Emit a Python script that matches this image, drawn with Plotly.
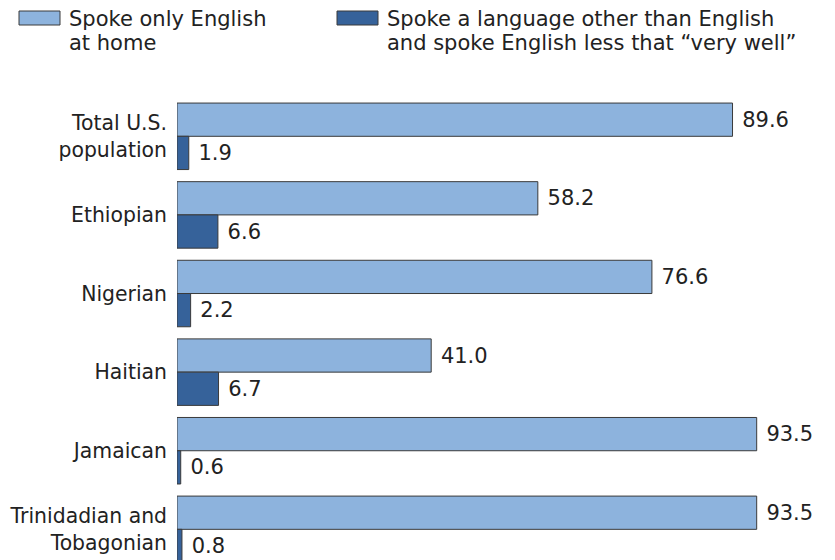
import plotly.graph_objects as go

categories = ["Total U.S.<br>population", "Ethiopian", "Nigerian", "Haitian", "Jamaican",
              "Trinidadian and<br>Tobagonian"]
english_only = [89.6, 58.2, 76.6, 41.0, 93.5, 93.5]
less_very_well = [1.9, 6.6, 2.2, 6.7, 0.6, 0.8]
series_lines = [["Spoke only English", "at home"],
                ["Spoke a language other than English",
                 "and spoke English less that \u201cvery well\u201d"]]
series_colors = ["#8DB3DD", "#36629A"]

FONT = "DejaVu Sans"
FS = 21
OFF = 8  # page body margin offset

fig = go.Figure()
for lines, vals, col in zip(series_lines, [english_only, less_very_well], series_colors):
    fig.add_trace(go.Bar(
        y=categories, x=vals, orientation="h", name=" ".join(lines),
        marker=dict(color=col, line=dict(color="#3a3a3a", width=1)),
        text=[f"{v:.1f}" for v in vals], texttemplate=" %{text}",
        textposition="outside", cliponaxis=False,
        textfont=dict(family=FONT, size=FS, color="#222222"),
        showlegend=False,
    ))

W, H = 835 - OFF, 560 - OFF
PL, PT, PW = 177 - OFF, 97 - OFF, 620
PH = H - PT

def px(x):
    return (x - OFF - PL) / PW

def py(y):
    return 1 - (y - OFF - PT) / PH

legend_x = [19, 337]
for i, (lines, col) in enumerate(zip(series_lines, series_colors)):
    x0 = legend_x[i]
    fig.add_shape(type="rect", xref="paper", yref="paper",
                  x0=px(x0), x1=px(x0 + 41), y0=py(25), y1=py(11),
                  fillcolor=col, line=dict(color="#3a3a3a", width=1))
    for j, line in enumerate(lines):
        fig.add_annotation(xref="paper", yref="paper", x=px(x0 + 48),
                           y=py(19 + 24 * j), xanchor="left", yanchor="middle",
                           text=line, showarrow=False, align="left",
                           font=dict(family=FONT, size=FS, color="#222222"))

fig.update_layout(
    barmode="group", bargap=0.154, bargroupgap=0,
    width=W, height=H,
    margin=dict(l=PL, r=W - PL - PW, t=PT, b=0, autoexpand=False),
    paper_bgcolor="white", plot_bgcolor="white",
    font=dict(family=FONT, size=FS, color="#222222"),
    xaxis=dict(range=[0, 100], visible=False, automargin=False),
    yaxis=dict(range=[5.39, -0.5], showgrid=False, showline=False, ticks="",
               automargin=False, ticklabelstandoff=9,
               tickfont=dict(family=FONT, size=20.4, color="#222222")),
)
fig.write_html("out.html")
